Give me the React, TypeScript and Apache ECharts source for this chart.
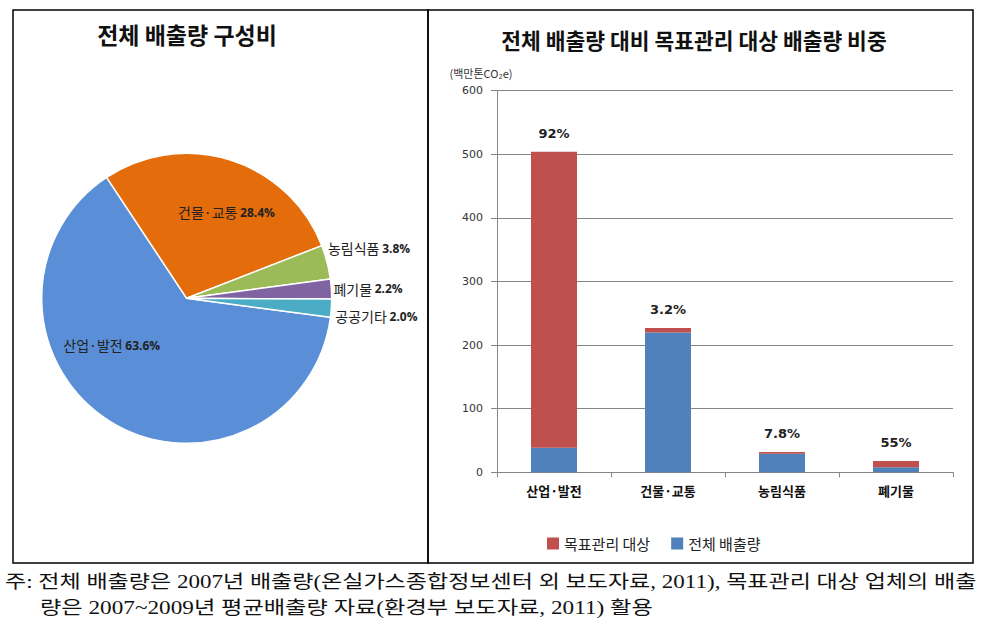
import React, { useEffect, useRef } from 'react';
import * as echarts from 'echarts';

// ---- data ----
const pieNames = ['산업·발전', '건물·교통', '농림식품', '폐기물', '공공기타'];
const pieValues = [63.6, 28.4, 3.8, 2.2, 2.0];

const barCategories = ['산업·발전', '건물·교통', '농림식품', '폐기물'];
const totalEmission = [38.7, 219.7, 29.3, 8.0]; // 전체 배출량 (blue, bottom)
const targetEmission = [465.3, 7.3, 2.7, 9.8]; // 목표관리 대상 (red, top)
const shareLabels = ['92%', '3.2%', '7.8%', '55%'];
const legendNames = ['목표관리 대상', '전체 배출량'];

const pieTitle = '전체 배출량 구성비';
const barTitle = '전체 배출량 대비 목표관리 대상 배출량 비중';
const unitLabel = '(백만톤CO₂e)';
const noteLine1 = '주: 전체 배출량은 2007년 배출량(온실가스종합정보센터 외 보도자료, 2011), 목표관리 대상 업체의 배출';
const noteLine2 = '량은 2007~2009년 평균배출량 자료(환경부 보도자료, 2011) 활용';

// ---- styles ----
const pieColors = ['#5A8ED6', '#E46C0A', '#9BBB59', '#8064A2', '#4BACC6'];
const pieLabelPos = ['inside', 'inside', 'outside', 'outside', 'outside'];
const pieLabelOffsets = [[-35, -17], [17, -14], [-8, -13], [-7, 0], [-5, 8]];
const RED = '#C0504D';
const BLUE = '#4F81BD';
const KR = '"Noto Sans CJK KR", sans-serif';
const NOTE_FONT = '18px "Liberation Serif", "Noto Sans CJK KR", serif';

export default function App() {
  const ref = useRef<HTMLDivElement>(null);
  useEffect(() => {
    if (!ref.current) return;
    const chart = echarts.init(ref.current, null, { renderer: 'svg' });
    const option: any = {
      animation: false,
      backgroundColor: '#fff',
      textStyle: { fontFamily: KR },
      graphic: [
        { type: 'rect', shape: { x: 13, y: 10, width: 415, height: 553 }, style: { fill: 'none', stroke: '#000', lineWidth: 1.5 } },
        { type: 'rect', shape: { x: 428, y: 10, width: 545, height: 553 }, style: { fill: 'none', stroke: '#000', lineWidth: 1.5 } },
        { type: 'text', x: 187, y: 34, style: { text: pieTitle, textAlign: 'center', textVerticalAlign: 'middle', font: `bold 23px ${KR}`, fill: '#111' } },
        { type: 'text', x: 694, y: 39, style: { text: barTitle, textAlign: 'center', textVerticalAlign: 'middle', font: `bold 21.5px ${KR}`, fill: '#111' } },
        { type: 'text', x: 5, y: 582, scaleX: 1.28, style: { text: noteLine1, textAlign: 'left', textVerticalAlign: 'middle', font: NOTE_FONT, fill: '#111' } },
        { type: 'text', x: 40, y: 608, scaleX: 1.29, style: { text: noteLine2, textAlign: 'left', textVerticalAlign: 'middle', font: NOTE_FONT, fill: '#111' } },
      ],
      legend: {
        data: legendNames,
        left: 547,
        top: 536,
        padding: 0,
        itemWidth: 12,
        itemHeight: 12,
        itemGap: 21,
        icon: 'rect',
        textStyle: { fontSize: 15, color: '#222', fontFamily: KR },
      },
      grid: { left: 497, top: 90.7, width: 456, height: 381.6, containLabel: false },
      xAxis: {
        type: 'category',
        data: barCategories,
        axisLine: { lineStyle: { color: '#868686' } },
        axisTick: { show: true, length: 5, lineStyle: { color: '#868686' } },
        axisLabel: { color: '#111', fontSize: 13, fontWeight: 'bold', margin: 12, fontFamily: KR },
      },
      yAxis: {
        type: 'value',
        min: 0,
        max: 600,
        interval: 100,
        name: unitLabel,
        nameLocation: 'end',
        nameGap: 12,
        nameTextStyle: { fontSize: 11, color: '#333', padding: [0, 32, 0, 0], fontFamily: KR },
        axisLine: { show: true, lineStyle: { color: '#868686' } },
        axisTick: { show: true, length: 6, lineStyle: { color: '#868686' } },
        splitLine: { lineStyle: { color: '#868686' } },
        axisLabel: { color: '#333', fontSize: 11, margin: 14, fontFamily: '"DejaVu Sans", sans-serif' },
      },
      series: [
        {
          type: 'pie',
          center: [186.7, 298.3],
          radius: 145,
          startAngle: 352.5,
          clockwise: true,
          avoidLabelOverlap: false,
          itemStyle: { borderColor: '#fff', borderWidth: 1.5 },
          labelLine: { show: false, length: 4, length2: 0 },
          label: {
            color: '#222',
            formatter: (p: any) => `{n|${p.name}} {p|${Number(p.value).toFixed(1)}%}`,
            rich: {
              n: { fontSize: 14, color: '#222', fontFamily: KR },
              p: { fontSize: 12, color: '#222', fontWeight: 'bold', fontFamily: '"Open Sans", sans-serif' },
            },
          },
          labelLayout: (params: any) => {
            const o = pieLabelOffsets[params.dataIndex] || [0, 0];
            return { dx: o[0], dy: o[1] };
          },
          emphasis: { disabled: true },
          data: pieNames.map((name, i) => ({
            name,
            value: pieValues[i],
            itemStyle: { color: pieColors[i] },
            label: { position: pieLabelPos[i] },
            labelLine: { show: false },
          })),
        },
        {
          type: 'bar',
          name: legendNames[1],
          stack: 'em',
          barWidth: 46,
          itemStyle: { color: BLUE },
          data: totalEmission,
        },
        {
          type: 'bar',
          name: legendNames[0],
          stack: 'em',
          barWidth: 46,
          itemStyle: { color: RED },
          data: targetEmission,
          label: {
            show: true,
            position: 'top',
            distance: 12,
            formatter: (p: any) => shareLabels[p.dataIndex],
            fontSize: 13,
            fontWeight: 'bold',
            color: '#222',
            fontFamily: '"DejaVu Sans", sans-serif',
          },
        },
      ],
    };
    chart.setOption(option);
    return () => chart.dispose();
  }, []);
  return <div ref={ref} style={{ position: 'absolute', left: 0, top: 0, width: 1004, height: 633 }} />;
}
